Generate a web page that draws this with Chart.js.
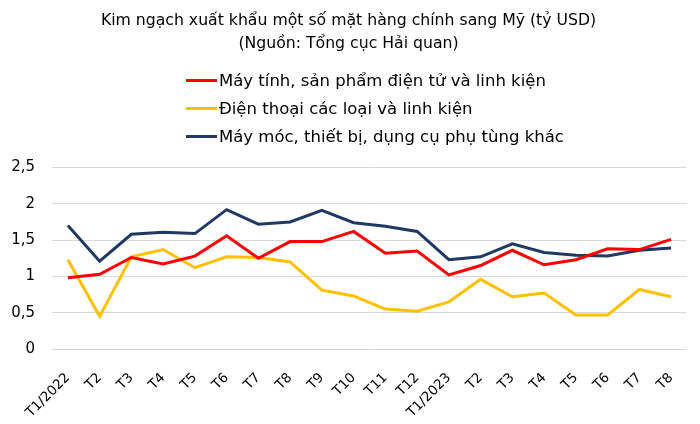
<!DOCTYPE html>
<html>
<head>
<meta charset="utf-8">
<script src="https://cdn.jsdelivr.net/npm/chart.js@4"></script>
<style>
  html, body { margin: 0; padding: 0; background: #fff; }
  #wrap { width: 700px; height: 424px; }
</style>
</head>
<body>
<div id="wrap"><canvas id="chartLinha" width="700" height="424"></canvas></div>
<script>
var thang = ["T1/2022", "T2", "T3", "T4", "T5", "T6", "T7", "T8", "T9", "T10", "T11", "T12",
  "T1/2023", "T2", "T3", "T4", "T5", "T6", "T7", "T8"];

var mayTinh = [0.98, 1.03, 1.26, 1.17, 1.28, 1.56, 1.25, 1.48, 1.48, 1.62, 1.32, 1.35,
  1.02, 1.15, 1.36, 1.16, 1.23, 1.38, 1.37, 1.51];

var dienThoai = [1.23, 0.45, 1.27, 1.37, 1.12, 1.27, 1.26, 1.20, 0.81, 0.73, 0.55, 0.52,
  0.65, 0.96, 0.72, 0.77, 0.47, 0.47, 0.82, 0.72];

var mayMoc = [1.70, 1.21, 1.58, 1.61, 1.59, 1.92, 1.72, 1.75, 1.91, 1.74, 1.69, 1.62,
  1.23, 1.27, 1.45, 1.33, 1.29, 1.28, 1.36, 1.39];

var tickY = ["0", "0,5", "1", "1,5", "2", "2,5"];

var fonte = "'DejaVu Sans', sans-serif";

// legenda desenhada na mao pra ficar uma embaixo da outra
const legendaVertical = {
  id: "legendaVertical",
  afterDraw(chart) {
    const ctx = chart.ctx;
    ctx.save();
    ctx.font = "16.5px " + fonte;
    ctx.textBaseline = "middle";
    chart.data.datasets.forEach(function (ds, i) {
      var y = 80.5 + i * 28;
      ctx.strokeStyle = ds.borderColor;
      ctx.lineWidth = 3;
      ctx.beginPath();
      ctx.moveTo(186, y);
      ctx.lineTo(217, y);
      ctx.stroke();
      ctx.fillStyle = "#000";
      ctx.fillText(ds.label, 219, y + 1);
    });
    ctx.restore();
  },
};

new Chart(document.getElementById("chartLinha"), {
  type: "line",
  data: {
    labels: thang,
    datasets: [
      {
        label: "Máy tính, sản phẩm điện tử và linh kiện",
        data: mayTinh,
        borderColor: "#FF0000",
        backgroundColor: "#FF0000",
      },
      {
        label: "Điện thoại các loại và linh kiện",
        data: dienThoai,
        borderColor: "#FFC000",
        backgroundColor: "#FFC000",
      },
      {
        label: "Máy móc, thiết bị, dụng cụ phụ tùng khác",
        data: mayMoc,
        borderColor: "#203864",
        backgroundColor: "#203864",
      },
    ],
  },
  options: {
    responsive: false,
    animation: false,
    layout: { padding: { left: 10, right: 13, top: 10, bottom: 0 } },
    elements: {
      line: { borderWidth: 3, tension: 0 },
      point: { radius: 0 },
    },
    plugins: {
      legend: { display: false },
      tooltip: { enabled: false },
      title: {
        display: true,
        text: ["Kim ngạch xuất khẩu một số mặt hàng chính sang Mỹ (tỷ USD)", "(Nguồn: Tổng cục Hải quan)"],
        color: "#000",
        font: { family: fonte, size: 15.7, weight: "normal", lineHeight: 1.45 },
        padding: { top: 0, bottom: 112 },
      },
    },
    scales: {
      x: {
        offset: true,
        grid: { display: false },
        border: { display: false },
        // altura fixa do eixo e sem empurrar a area do grafico pra direita
        afterFit: function (scale) {
          scale.height = 75;
          scale.paddingLeft = 0;
        },
        ticks: {
          color: "#000",
          font: { family: fonte, size: 13.5 },
          maxRotation: 45,
          minRotation: 45,
          autoSkip: false,
          padding: 13,
        },
      },
      y: {
        min: 0,
        max: 2.5,
        grid: { color: "#d9d9d9", lineWidth: 1, drawTicks: false },
        border: { display: false },
        afterFit: function (scale) {
          scale.width = 42;
        },
        ticks: {
          stepSize: 0.5,
          color: "#000",
          font: { family: fonte, size: 15 },
          padding: 17,
          callback: function (value, index) {
            return tickY[index];
          },
        },
      },
    },
  },
  plugins: [legendaVertical],
});
</script>
</body>
</html>
